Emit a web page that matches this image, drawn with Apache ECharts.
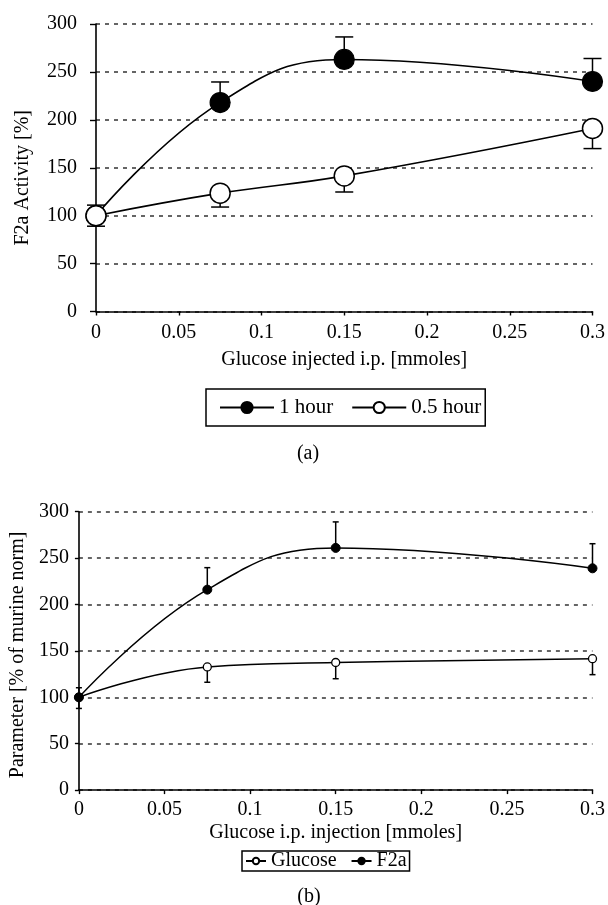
<!DOCTYPE html>
<html>
<head>
<meta charset="utf-8">
<script src="https://cdn.jsdelivr.net/npm/echarts@6/dist/echarts.min.js"></script>
<style>
html,body{margin:0;padding:0;background:#fff;}
#chart{width:608px;height:905px;}
</style>
</head>
<body>
<div id="chart"></div>
<script>
// ---- data ----
const xDoses = [0, 0.075, 0.15, 0.3];
// panel (a)
const aOneHour = [100, 218, 263, 240];
const aOneHourErrHigh = [111, 239.5, 286.5, 264];
const aHalfHour = [100, 123.5, 141.5, 191];
const aHalfHourErrLow = [89, 109, 124.7, 170];
// panel (b)
const bGlucose = [100, 132.7, 137.5, 141.6];
const bGlucoseErrLow = [88, 116.2, 120, 124.4];
const bF2a = [100, 216, 261, 239];
const bF2aErrHigh = [110.3, 239.7, 289, 265.5];
// labels
const legendA = ['1 hour', '0.5 hour'];
const legendB = ['Glucose', 'F2a'];
const panelLabels = ['(a)', '(b)'];
const axisNames = {
  aX: 'Glucose injected i.p. [mmoles]',
  aY: 'F2a Activity [%]',
  bX: 'Glucose i.p. injection [mmoles]',
  bY: 'Parameter [% of murine norm]'
};

const FONT = 'Liberation Serif';
const pairs = (xs, ys) => xs.map((x, i) => [x, ys[i]]);
const errData = (xs, vals, ends) => xs.map((x, i) => [x, vals[i], ends[i]]);

function errorBar(capW, lw) {
  return function (params, api) {
    const x = api.value(0);
    const p1 = api.coord([x, api.value(1)]);
    const p2 = api.coord([x, api.value(2)]);
    const st = { stroke: '#000', lineWidth: lw };
    return {
      type: 'group',
      children: [
        { type: 'line', shape: { x1: p1[0], y1: p1[1], x2: p2[0], y2: p2[1] }, style: st },
        { type: 'line', shape: { x1: p2[0] - capW / 2, y1: p2[1], x2: p2[0] + capW / 2, y2: p2[1] }, style: st }
      ]
    };
  };
}

function xAxisCfg(gi, name, nameGap, labelMargin, tickLen) {
  return {
    type: 'value', gridIndex: gi, min: 0, max: 0.3, interval: 0.05,
    name: name, nameLocation: 'middle', nameGap: nameGap,
    nameTextStyle: { fontFamily: FONT, fontSize: 20, color: '#000' },
    axisLine: { show: true, lineStyle: { color: '#000', width: 1.6 } },
    axisTick: { show: true, length: tickLen, lineStyle: { color: '#000', width: 1.4 } },
    axisLabel: { fontFamily: FONT, fontSize: 20, color: '#000', margin: labelMargin, showMinLabel: true, showMaxLabel: true },
    splitLine: { show: false }
  };
}
function yAxisCfg(gi, name, nameGap, labelMargin, tickLen, namePad) {
  return {
    type: 'value', gridIndex: gi, min: 0, max: 300, interval: 50,
    name: name, nameLocation: 'middle', nameGap: nameGap,
    nameTextStyle: { fontFamily: FONT, fontSize: 20, color: '#000', padding: namePad },
    axisLine: { show: true, lineStyle: { color: '#000', width: 1.6 } },
    axisTick: { show: true, length: tickLen, lineStyle: { color: '#000', width: 1.4 } },
    axisLabel: { fontFamily: FONT, fontSize: 20, color: '#000', margin: labelMargin },
    splitLine: { show: true, lineStyle: { color: '#333', width: 1.5, type: [4, 5] } }
  };
}

const chart = echarts.init(document.getElementById('chart'), null, { renderer: 'canvas' });
chart.setOption({
  backgroundColor: '#fff',
  animation: false,
  grid: [
    { left: 96, right: 12, top: 24, height: 287.5 },
    { left: 75, right: 12, top: 511.7, height: 278.4 }
  ],
  xAxis: [
    xAxisCfg(0, axisNames.aX, 38, 11, 4),
    xAxisCfg(1, axisNames.bX, 33, 10, 4)
  ],
  yAxis: [
    yAxisCfg(0, axisNames.aY, 63, 19, 6, [0, 20, 0, 0]),
    yAxisCfg(1, axisNames.bY, 45, 10, 4, [0, 8, 0, 0])
  ],
  legend: [
    {
      data: legendA, left: 206, top: 389, orient: 'horizontal',
      itemWidth: 54, itemHeight: 14, itemGap: 18,
      padding: [8, 4, 8, 13],
      borderColor: '#000', borderWidth: 1.5, borderRadius: 0,
      textStyle: { fontFamily: FONT, fontSize: 21, color: '#000' }
    },
    {
      data: legendB, left: 242, top: 851, orient: 'horizontal',
      itemWidth: 20, itemHeight: 8, itemGap: 14,
      padding: [0, 3, 0, 3],
      borderColor: '#000', borderWidth: 1.5, borderRadius: 0,
      textStyle: { fontFamily: FONT, fontSize: 20, color: '#000' }
    }
  ],
  graphic: [
    { type: 'text', x: 308, y: 454, style: { text: panelLabels[0], font: '20px "Liberation Serif"', fill: '#000', align: 'center', verticalAlign: 'middle' } },
    { type: 'text', x: 309, y: 897, style: { text: panelLabels[1], font: '20px "Liberation Serif"', fill: '#000', align: 'center', verticalAlign: 'middle' } }
  ],
  series: [
    // panel (a) error bars
    { type: 'custom', xAxisIndex: 0, yAxisIndex: 0, z: 1, silent: true, renderItem: errorBar(18, 1.5), data: errData(xDoses, aOneHour, aOneHourErrHigh) },
    { type: 'custom', xAxisIndex: 0, yAxisIndex: 0, z: 1, silent: true, renderItem: errorBar(18, 1.5), data: errData(xDoses, aHalfHour, aHalfHourErrLow) },
    {
      name: legendA[0], type: 'line', xAxisIndex: 0, yAxisIndex: 0, z: 3,
      data: pairs(xDoses, aOneHour), smooth: 0.45,
      symbol: 'circle', symbolSize: 20,
      lineStyle: { color: '#000', width: 1.6 },
      itemStyle: { color: '#000', borderColor: '#000', borderWidth: 1.2 }
    },
    {
      name: legendA[1], type: 'line', xAxisIndex: 0, yAxisIndex: 0, z: 4,
      data: pairs(xDoses, aHalfHour), smooth: 0.45,
      symbol: 'circle', symbolSize: 20,
      lineStyle: { color: '#000', width: 1.6 },
      itemStyle: { color: '#fff', borderColor: '#000', borderWidth: 1.5 }
    },
    // panel (b) error bars
    { type: 'custom', xAxisIndex: 1, yAxisIndex: 1, z: 1, silent: true, renderItem: errorBar(6, 1.5), data: errData(xDoses, bGlucose, bGlucoseErrLow) },
    { type: 'custom', xAxisIndex: 1, yAxisIndex: 1, z: 1, silent: true, renderItem: errorBar(6, 1.5), data: errData(xDoses, bF2a, bF2aErrHigh) },
    {
      name: legendB[0], type: 'line', xAxisIndex: 1, yAxisIndex: 1, z: 3,
      data: pairs(xDoses, bGlucose), smooth: 0.45,
      symbol: 'circle', symbolSize: 8,
      lineStyle: { color: '#000', width: 1.5 },
      itemStyle: { color: '#fff', borderColor: '#000', borderWidth: 1.3 }
    },
    {
      name: legendB[1], type: 'line', xAxisIndex: 1, yAxisIndex: 1, z: 4,
      data: pairs(xDoses, bF2a), smooth: 0.45,
      symbol: 'circle', symbolSize: 9,
      lineStyle: { color: '#000', width: 1.5 },
      itemStyle: { color: '#000', borderColor: '#000', borderWidth: 1 }
    }
  ]
});
</script>
</body>
</html>
